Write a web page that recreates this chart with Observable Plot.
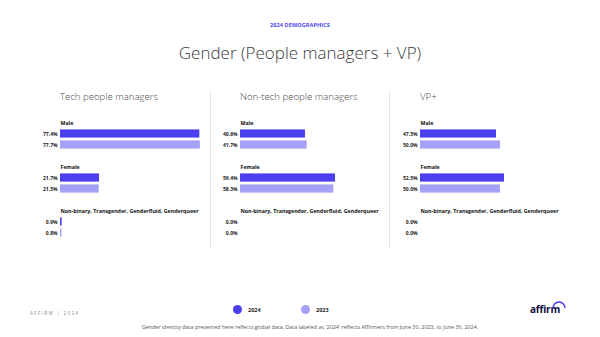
<!DOCTYPE html>
<html>
<head>
<meta charset="utf-8">
<script src="https://cdn.jsdelivr.net/npm/d3@7"></script>
<script src="https://cdn.jsdelivr.net/npm/@observablehq/plot@0.6"></script>
<style>
  html, body { margin: 0; padding: 0; background: #fff; }
  body { width: 600px; height: 337px; position: relative; overflow: hidden; font-family: "Open Sans", sans-serif; }
  .abs { position: absolute; white-space: nowrap; }
  #kicker { left: 0; width: 600px; top: 21px; text-align: center; font-size: 5.5px; font-weight: 700; color: #4b3ff0; letter-spacing: 0.1px; }
  #title { left: 0; width: 600px; top: 41px; text-align: center; font-size: 17px; font-weight: 300; color: #3a3a3a; }
  .ptitle { top: 90px; font-size: 9.6px; font-weight: 300; color: #4a4a4a; }
  .sep { top: 90px; width: 1px; height: 158px; background: #e4e4e4; }
  .panel { top: 100px; }
  .panel svg { background: transparent; overflow: visible; }
  #footer-left { left: 30px; top: 310px; font-size: 4.4px; color: #888; letter-spacing: 1.5px; }
  .lg-dot { width: 9px; height: 9px; border-radius: 50%; top: 305px; }
  .lg-txt { top: 306px; font-size: 5.5px; font-weight: 700; color: #222; }
  #note { left: 0; width: 620px; top: 323px; text-align: center; font-size: 5.4px; color: #555; }
  #logo { left: 530px; top: 302px; font-size: 10px; font-weight: 700; color: #0c0c3c; letter-spacing: -0.2px; }
</style>
</head>
<body>
<div id="kicker" class="abs"></div>
<div id="title" class="abs"></div>
<div id="panels"></div>
<div id="footer-left" class="abs">AFFIRM | 2024</div>
<div id="legend"></div>
<div id="note" class="abs"></div>
<div id="logo" class="abs">affirm<svg width="14" height="8" style="position:absolute;left:22px;top:-1px;overflow:visible"><path d="M1,7 A6,6 0 0 1 13,7" fill="none" stroke="#4b3ff0" stroke-width="1.6"/></svg></div>
<script>
// ---- data ----
const kicker = "2024 DEMOGRAPHICS";
const title = "Gender (People managers + VP)";
const panelTitles = ["Tech people managers", "Non-tech people managers", "VP+"];
const categories = ["Male", "Female", "Non-binary, Transgender, Genderfluid, Genderqueer"];
const years = ["2024", "2023"];
const yearColors = ["#4b3ff0", "#a5a1f7"];
const tech2024 = [77.4, 21.7, 0.9];
const tech2023 = [77.7, 21.5, 0.8];
const nontech2024 = [40.6, 59.4, 0.0];
const nontech2023 = [41.7, 58.3, 0.0];
const vp2024 = [47.5, 52.5, 0.0];
const vp2023 = [50.0, 50.0, 0.0];
const note = "Gender identity data presented here reflects global data. Data labeled as '2024' reflects Affirmers from June 30, 2023, to June 30, 2024.";

// ---- layout ----
const panelSeries = [[tech2024, tech2023], [nontech2024, nontech2023], [vp2024, vp2023]];
const panelLeft = [20, 200, 380];
const pxPerPct = [1.8, 1.6, 1.6];
const sepX = [210, 389];

document.getElementById("kicker").textContent = kicker;
document.getElementById("title").textContent = title;
document.getElementById("note").textContent = note;

const slots = [];
categories.forEach((c, i) => {
  slots.push(`${i}-label`, `${i}-2024`, `${i}-2023`);
  if (i < categories.length - 1) slots.push(`${i}-sp`);
});
const step = 11.875;

const host = document.getElementById("panels");
panelTitles.forEach((t, p) => {
  const rows = [];
  categories.forEach((c, i) => {
    years.forEach((y, k) => {
      rows.push({cat: c, year: y, slot: `${i}-${y}`, value: panelSeries[p][k][i]});
    });
  });
  const labels = categories.map((c, i) => ({slot: `${i}-label`, text: c}));
  const chart = Plot.plot({
    width: 180, height: 160,
    marginLeft: 40, marginRight: 0, marginTop: 12, marginBottom: 10,
    style: {fontFamily: "Open Sans, sans-serif", background: "transparent", overflow: "visible"},
    x: {domain: [0, 100], range: [40, 40 + pxPerPct[p] * 100], axis: null},
    y: {domain: slots, range: [12, 12 + step * slots.length], padding: 0, axis: null},
    color: {domain: years, range: yearColors},
    marks: [
      Plot.barX(rows, {x: "value", y: "slot", fill: "year", insetTop: 1.4, insetBottom: 1.4}),
      Plot.text(rows, {x: 0, y: "slot", text: d => d.value.toFixed(1) + "%", textAnchor: "end", dx: -3, fontSize: 5, fontWeight: 700, fill: "#222"}),
      Plot.text(labels, {x: 0, y: "slot", text: "text", textAnchor: "start", fontSize: 5.3, fontWeight: 700, fill: "#111"})
    ]
  });
  const wrap = document.createElement("div");
  wrap.className = "abs panel";
  wrap.style.left = panelLeft[p] + "px";
  wrap.appendChild(chart);
  host.appendChild(wrap);

  const pt = document.createElement("div");
  pt.className = "abs ptitle";
  pt.style.left = (panelLeft[p] + 40) + "px";
  pt.textContent = t;
  host.appendChild(pt);
});
sepX.forEach(x => {
  const s = document.createElement("div");
  s.className = "abs sep";
  s.style.left = x + "px";
  host.appendChild(s);
});

// legend
const lg = document.getElementById("legend");
const lgX = [233, 301];
years.forEach((y, k) => {
  const d = document.createElement("div");
  d.className = "abs lg-dot";
  d.style.left = lgX[k] + "px";
  d.style.background = yearColors[k];
  lg.appendChild(d);
  const t = document.createElement("div");
  t.className = "abs lg-txt";
  t.style.left = (lgX[k] + 15) + "px";
  t.textContent = y;
  lg.appendChild(t);
});
</script>
</body>
</html>
